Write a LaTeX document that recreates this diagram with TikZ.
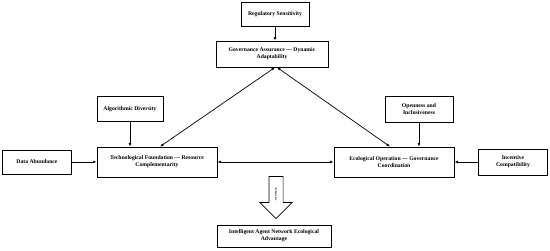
\documentclass[tikz,border=0pt]{standalone}
\usepackage{fontspec}
\setmainfont{Liberation Serif}
\usetikzlibrary{arrows.meta,shapes.arrows}

\begin{document}
\begin{tikzpicture}[x=1pt,y=-1pt,
    box/.style={draw,line width=0.8pt,align=center,inner sep=1pt,
        font=\fontsize{5.7}{7}\selectfont\bfseries},
    link/.style={line width=0.7pt,-{Latex[length=3.5pt,width=2.8pt]}},
    twoway/.style={line width=0.7pt,{Latex[length=3.5pt,width=2.8pt]}-{Latex[length=3.5pt,width=2.8pt]}}]
    \useasboundingbox (0,0) rectangle (550,250);

    % Governance level
    \node[box,minimum width=68pt,minimum height=24pt] (reg) at (275,14) {Regulatory Sensitivity};
    \node[box,minimum width=112pt,minimum height=26pt] (gov) at (272,54) {Governance Assurance --- Dynamic\\Adaptability};
    \draw[link] (reg) -- (reg |- gov.north);

    % Middle row
    \node[box,minimum width=66pt,minimum height=25pt] (alg) at (130,109) {Algorithmic Diversity};
    \node[box,minimum width=68pt,minimum height=26pt] (open) at (419,109) {Openness and\\Inclusiveness};
    \node[box,minimum width=69pt,minimum height=24pt] (data) at (37,162) {Data Abundance};
    \node[box,minimum width=120pt,minimum height=30pt] (tech) at (157,162) {Technological Foundation --- Resource\\Complementarity};
    \node[box,minimum width=120pt,minimum height=30pt] (eco) at (394,162) {Ecological Operation --- Governance\\Coordination};
    \node[box,minimum width=69pt,minimum height=26pt] (inc) at (513,162) {Incentive\\Compatibility};

    \draw[link] (alg.south) -- (alg.south |- tech.north);
    \draw[link] (open.south) -- (open.south |- eco.north);
    \draw[link] (data) -- (tech);
    \draw[link] (inc) -- (eco);
    \draw[twoway] (tech) -- (eco);
    \draw[twoway] ([xshift=3pt]tech.north) -- ([xshift=3pt]gov.south);
    \draw[twoway] ([xshift=-4pt]eco.north) -- ([xshift=5pt]gov.south);

    % Outcome
    \node[single arrow,draw,line width=0.7pt,rotate=-90,minimum height=42pt,
        single arrow head extend=9pt,single arrow head indent=0pt,
        inner xsep=2pt,inner ysep=5.5pt,text height=2pt,text depth=0.5pt,
        font=\fontsize{2.3}{2.5}\selectfont\bfseries] (cfg) at (276,194) {Configuration};
    \node[box,minimum width=114pt,minimum height=22pt] (adv) at (274,236) {Intelligent Agent Network Ecological\\Advantage};
\end{tikzpicture}
\end{document}
